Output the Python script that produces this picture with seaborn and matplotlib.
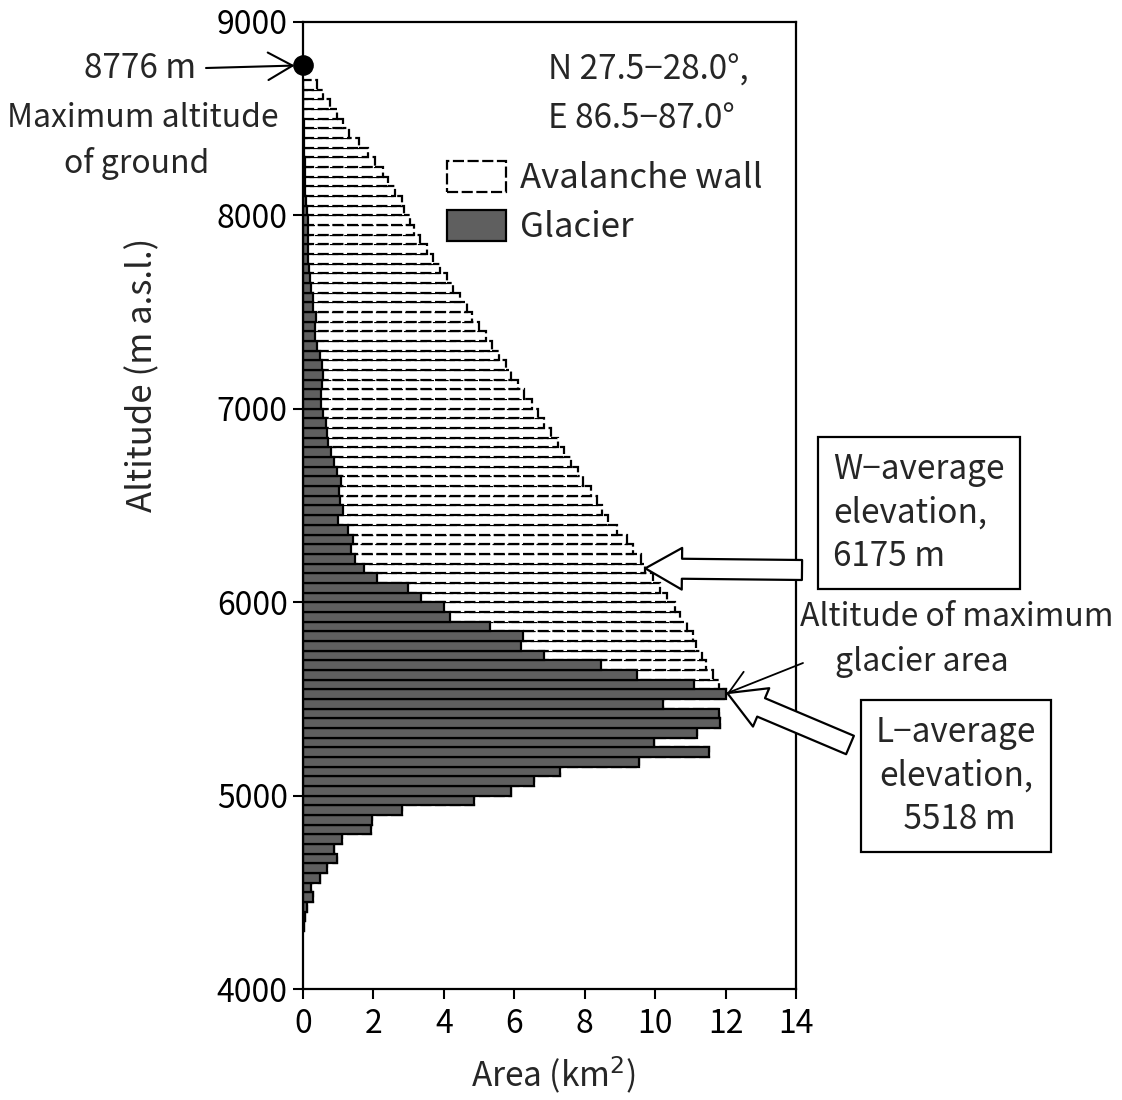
import matplotlib
matplotlib.use("Agg")
import matplotlib.pyplot as plt
import pandas as pd
import seaborn as sns

# Lower edge of each 50 m altitude band (m a.s.l.)
band_bottom_m = [
    8650, 8600, 8550, 8500, 8450, 8400, 8350, 8300, 8250, 8200,
    8150, 8100, 8050, 8000, 7950, 7900, 7850, 7800, 7750, 7700,
    7650, 7600, 7550, 7500, 7450, 7400, 7350, 7300, 7250, 7200,
    7150, 7100, 7050, 7000, 6950, 6900, 6850, 6800, 6750, 6700,
    6650, 6600, 6550, 6500, 6450, 6400, 6350, 6300, 6250, 6200,
    6150, 6100, 6050, 6000, 5950, 5900, 5850, 5800, 5750, 5700,
    5650, 5600, 5550, 5500, 5450, 5400, 5350, 5300, 5250, 5200,
    5150, 5100, 5050, 5000, 4950, 4900, 4850, 4800, 4750, 4700,
    4650, 4600, 4550, 4500, 4450, 4400, 4350, 4300,
]

# Glacier area in each band (km2)
glacier_km2 = [
    0.00, 0.00, 0.00, 0.00, 0.02, 0.03, 0.03, 0.04, 0.05, 0.05,
    0.06, 0.06, 0.08, 0.10, 0.14, 0.15, 0.15, 0.15, 0.15, 0.17,
    0.20, 0.23, 0.29, 0.29, 0.36, 0.34, 0.34, 0.39, 0.48, 0.55,
    0.58, 0.53, 0.51, 0.51, 0.58, 0.64, 0.67, 0.70, 0.80, 0.89,
    0.96, 1.08, 1.03, 1.05, 1.15, 1.00, 1.27, 1.43, 1.36, 1.48,
    1.73, 2.09, 2.99, 3.35, 4.00, 4.17, 5.31, 6.26, 6.19, 6.83,
    8.46, 9.49, 11.11, 12.01, 10.23, 11.81, 11.84, 11.20, 9.98, 11.54,
    9.54, 7.30, 6.55, 5.91, 4.86, 2.82, 1.97, 1.93, 1.10, 0.89,
    0.97, 0.69, 0.49, 0.23, 0.29, 0.10, 0.05, 0.03,
]

# Avalanche-wall area in each band (km2), stacked to the right of the glacier
avalanche_wall_km2 = [
    0.39, 0.58, 0.77, 0.96, 1.13, 1.28, 1.57, 1.82, 1.99, 2.21,
    2.36, 2.55, 2.72, 2.78, 2.91, 3.01, 3.18, 3.38, 3.55, 3.73,
    3.88, 4.04, 4.17, 4.36, 4.44, 4.66, 4.85, 4.98, 5.09, 5.21,
    5.32, 5.57, 5.78, 5.98, 6.08, 6.21, 6.37, 6.55, 6.62, 6.72,
    6.84, 6.88, 7.15, 7.29, 7.35, 7.67, 7.66, 7.76, 8.02, 8.12,
    7.99, 7.86, 7.15, 6.98, 6.56, 6.54, 5.59, 4.82, 4.96, 4.50,
    2.98, 2.14, 0.70, 0.00, 0.00, 0.00, 0.00, 0.00, 0.00, 0.00,
    0.00, 0.00, 0.00, 0.00, 0.00, 0.00, 0.00, 0.00, 0.00, 0.00,
    0.00, 0.00, 0.00, 0.00, 0.00, 0.00, 0.00, 0.00,
]

summit_alt_m = 8776
w_average_m = 6175
l_average_m = 5518

x_ticks = [0, 2, 4, 6, 8, 10, 12, 14]
y_ticks = [4000, 5000, 6000, 7000, 8000, 9000]

W, H = 1122, 1100
FS = 23

sns.set_theme(style="ticks")
plt.rcParams["font.family"] = ["Noto Sans CJK JP", "DejaVu Sans"]
plt.rcParams["axes.unicode_minus"] = False

df = pd.DataFrame({
    "band_mid": [b + 25 for b in band_bottom_m],
    "glacier": glacier_km2,
    "avalanche": avalanche_wall_km2,
})
df["ground"] = df["glacier"] + df["avalanche"]

fig = plt.figure(figsize=(W / 100, H / 100), dpi=100)
ax = fig.add_axes([303 / W, 1 - 989 / H, 493 / W, 967 / H])

dash = (0, (5, 1.6))
# whole ground area: white with dashed outline
sns.barplot(data=df, x="ground", y="band_mid", orient="y", native_scale=True,
            width=1.0, color="white", saturation=1, edgecolor="black",
            linewidth=1.6, linestyle=dash, errorbar=None, ax=ax)
# glacier part drawn over it from zero
sns.barplot(data=df, x="glacier", y="band_mid", orient="y", native_scale=True,
            width=1.0, color="#5f5f5f", saturation=1, edgecolor="black",
            linewidth=1.6, errorbar=None, ax=ax)

ax.set_xlim(0, 14)
ax.set_ylim(4000, 9000)
ax.set_xticks(x_ticks)
ax.set_yticks(y_ticks)
ax.tick_params(axis="both", direction="out", length=7, width=1.5,
               labelsize=FS, color="black", labelcolor="black")
ax.tick_params(axis="x", pad=7)
ax.tick_params(axis="y", pad=4)
for sp in ax.spines.values():
    sp.set_visible(True)
    sp.set_linewidth(1.6)
    sp.set_color("black")

ax.set_xlabel("Area (km$^2$)", fontsize=FS + 1)
ax.set_ylabel("Altitude (m a.s.l.)", fontsize=FS + 2)
ax.xaxis.set_label_coords(0.507, -0.068)
ax.yaxis.set_label_coords(-0.29, 0.635)

# summit dot
sns.scatterplot(x=[0], y=[summit_alt_m], s=190, color="black",
                edgecolor="black", ax=ax, clip_on=False, zorder=5, legend=False)


def fpx(x, y):
    return (x, H - y)


# legend
aval_h = ax.containers[0].patches[0]
glac_h = ax.containers[1].patches[-1]
leg = ax.legend([aval_h, glac_h], ["Avalanche wall", "Glacier"],
                loc="upper left", bbox_to_anchor=(447 / W, 1 - 161 / H),
                bbox_transform=fig.transFigure, frameon=False, fontsize=FS + 2,
                handlelength=1.7, handleheight=1.0, handletextpad=0.4,
                labelspacing=0.38, borderpad=0, borderaxespad=0)

# texts on the left
fig.text(140 / W, 1 - 68 / H, "8776 m", fontsize=FS + 1, ha="center", va="center")
fig.text(143 / W, 1 - 118 / H, "Maximum altitude", fontsize=FS, ha="center", va="center")
fig.text(137 / W, 1 - 163 / H, "of ground", fontsize=FS, ha="center", va="center")
ax.annotate("", xy=(0, summit_alt_m), xycoords="data",
            xytext=fpx(206, 68), textcoords="figure pixels",
            arrowprops=dict(arrowstyle="->,head_length=0.8,head_width=0.45",
                            lw=1.5, color="black", shrinkA=0, shrinkB=6,
                            mutation_scale=22),
            annotation_clip=False)

# coordinates
fig.text(548 / W, 1 - 70 / H, "N 27.5\u221228.0\u00b0,", fontsize=FS + 1, ha="left", va="center")
fig.text(548 / W, 1 - 118 / H, "E 86.5\u221287.0\u00b0", fontsize=FS + 1, ha="left", va="center")

# W-average box and hollow arrow
fig.text(833 / W, 1 - 513 / H, "W\u2212average\nelevation,\n6175 m", fontsize=FS + 1,
         ha="left", va="center", linespacing=1.3,
         bbox=dict(boxstyle="square,pad=0.45", fc="white", ec="black", lw=1.6))
ax.annotate("", xy=(9.72, w_average_m), xycoords="data",
            xytext=fpx(802, 570), textcoords="figure pixels",
            arrowprops=dict(arrowstyle="simple,head_length=1.1,head_width=1.25,tail_width=0.6",
                            fc="white", ec="black", lw=1.6, shrinkA=0, shrinkB=0,
                            mutation_scale=24),
            annotation_clip=False)

# maximum glacier area
fig.text(957 / W, 1 - 617 / H, "Altitude of maximum", fontsize=FS, ha="center", va="center")
fig.text(922 / W, 1 - 662 / H, "glacier area", fontsize=FS, ha="center", va="center")
ax.annotate("", xy=(12.05, l_average_m + 12), xycoords="data",
            xytext=fpx(803, 663), textcoords="figure pixels",
            arrowprops=dict(arrowstyle="->,head_length=0.7,head_width=0.45",
                            lw=1.3, color="black", shrinkA=0, shrinkB=0,
                            mutation_scale=22),
            annotation_clip=False)

# L-average box and hollow arrow
fig.text(956 / W, 1 - 776 / H, "L\u2212average\nelevation,\n 5518 m", fontsize=FS + 1,
         ha="center", va="center", multialignment="center", linespacing=1.3,
         bbox=dict(boxstyle="square,pad=0.45", fc="white", ec="black", lw=1.6))
ax.annotate("", xy=(12.05, l_average_m + 12), xycoords="data",
            xytext=fpx(850, 745), textcoords="figure pixels",
            arrowprops=dict(arrowstyle="simple,head_length=1.1,head_width=1.25,tail_width=0.6",
                            fc="white", ec="black", lw=1.6, shrinkA=0, shrinkB=0,
                            mutation_scale=24),
            annotation_clip=False)

fig.savefig("out.png", dpi=100, facecolor="white")
